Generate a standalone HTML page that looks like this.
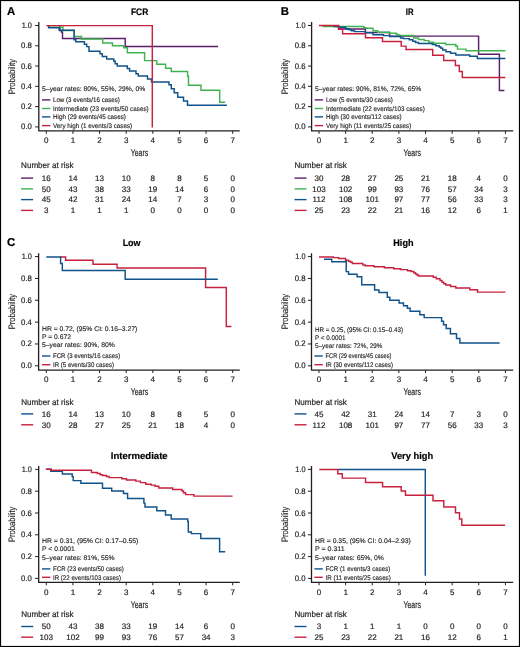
<!DOCTYPE html>
<html><head><meta charset="utf-8"><style>
html,body{margin:0;padding:0;background:#fff;width:520px;height:647px;overflow:hidden;}
body{position:relative;font-family:"Liberation Sans", sans-serif;}
</style></head><body>
<svg width="520" height="647" viewBox="0 0 520 647" style="position:absolute;left:0;top:0;will-change:transform">
<g font-family='"Liberation Sans", sans-serif' text-rendering="geometricPrecision">
<rect x="0.5" y="0.5" width="519" height="646" fill="none" stroke="#000" stroke-width="1.2"/>
<text x="7.00" y="14.80" font-size="11.4" text-anchor="start" font-weight="bold" fill="#000" stroke="#000" stroke-width="0.2">A</text>
<text x="139.60" y="14.60" font-size="9.4" text-anchor="middle" textLength="17.30" lengthAdjust="spacingAndGlyphs" font-weight="bold" fill="#000" stroke="#000" stroke-width="0.2">FCR</text>
<path d="M38.80 22.10V130.90H239.80" fill="none" stroke="#231f20" stroke-width="1.3"/>
<line x1="35.20" y1="126.90" x2="38.80" y2="126.90" stroke="#231f20" stroke-width="1.0"/>
<text x="31.90" y="129.40" font-size="8.0" text-anchor="end" textLength="10.80" lengthAdjust="spacingAndGlyphs" fill="#231f20" stroke="#231f20" stroke-width="0.2">0.0</text>
<line x1="35.20" y1="106.62" x2="38.80" y2="106.62" stroke="#231f20" stroke-width="1.0"/>
<text x="31.90" y="109.12" font-size="8.0" text-anchor="end" textLength="10.80" lengthAdjust="spacingAndGlyphs" fill="#231f20" stroke="#231f20" stroke-width="0.2">0.2</text>
<line x1="35.20" y1="86.34" x2="38.80" y2="86.34" stroke="#231f20" stroke-width="1.0"/>
<text x="31.90" y="88.84" font-size="8.0" text-anchor="end" textLength="10.80" lengthAdjust="spacingAndGlyphs" fill="#231f20" stroke="#231f20" stroke-width="0.2">0.4</text>
<line x1="35.20" y1="66.06" x2="38.80" y2="66.06" stroke="#231f20" stroke-width="1.0"/>
<text x="31.90" y="68.56" font-size="8.0" text-anchor="end" textLength="10.80" lengthAdjust="spacingAndGlyphs" fill="#231f20" stroke="#231f20" stroke-width="0.2">0.6</text>
<line x1="35.20" y1="45.78" x2="38.80" y2="45.78" stroke="#231f20" stroke-width="1.0"/>
<text x="31.90" y="48.28" font-size="8.0" text-anchor="end" textLength="10.80" lengthAdjust="spacingAndGlyphs" fill="#231f20" stroke="#231f20" stroke-width="0.2">0.8</text>
<line x1="35.20" y1="25.50" x2="38.80" y2="25.50" stroke="#231f20" stroke-width="1.0"/>
<text x="31.90" y="28.00" font-size="8.0" text-anchor="end" textLength="10.20" lengthAdjust="spacingAndGlyphs" fill="#231f20" stroke="#231f20" stroke-width="0.2">1.0</text>
<line x1="46.30" y1="130.90" x2="46.30" y2="133.80" stroke="#231f20" stroke-width="1.0"/>
<text x="46.30" y="143.10" font-size="8.0" text-anchor="middle" fill="#231f20" stroke="#231f20" stroke-width="0.2">0</text>
<line x1="72.93" y1="130.90" x2="72.93" y2="133.80" stroke="#231f20" stroke-width="1.0"/>
<text x="72.93" y="143.10" font-size="8.0" text-anchor="middle" fill="#231f20" stroke="#231f20" stroke-width="0.2">1</text>
<line x1="99.56" y1="130.90" x2="99.56" y2="133.80" stroke="#231f20" stroke-width="1.0"/>
<text x="99.56" y="143.10" font-size="8.0" text-anchor="middle" fill="#231f20" stroke="#231f20" stroke-width="0.2">2</text>
<line x1="126.19" y1="130.90" x2="126.19" y2="133.80" stroke="#231f20" stroke-width="1.0"/>
<text x="126.19" y="143.10" font-size="8.0" text-anchor="middle" fill="#231f20" stroke="#231f20" stroke-width="0.2">3</text>
<line x1="152.82" y1="130.90" x2="152.82" y2="133.80" stroke="#231f20" stroke-width="1.0"/>
<text x="152.82" y="143.10" font-size="8.0" text-anchor="middle" fill="#231f20" stroke="#231f20" stroke-width="0.2">4</text>
<line x1="179.45" y1="130.90" x2="179.45" y2="133.80" stroke="#231f20" stroke-width="1.0"/>
<text x="179.45" y="143.10" font-size="8.0" text-anchor="middle" fill="#231f20" stroke="#231f20" stroke-width="0.2">5</text>
<line x1="206.08" y1="130.90" x2="206.08" y2="133.80" stroke="#231f20" stroke-width="1.0"/>
<text x="206.08" y="143.10" font-size="8.0" text-anchor="middle" fill="#231f20" stroke="#231f20" stroke-width="0.2">6</text>
<line x1="232.71" y1="130.90" x2="232.71" y2="133.80" stroke="#231f20" stroke-width="1.0"/>
<text x="232.71" y="143.10" font-size="8.0" text-anchor="middle" fill="#231f20" stroke="#231f20" stroke-width="0.2">7</text>
<text x="0" y="0" font-size="9.4" text-anchor="middle" textLength="35.4" lengthAdjust="spacingAndGlyphs" fill="#231f20" stroke="#231f20" stroke-width="0.12" transform="translate(15.40,76.60) rotate(-90)">Probability</text>
<text x="139.50" y="155.70" font-size="9.8" text-anchor="middle" textLength="17.40" lengthAdjust="spacingAndGlyphs" fill="#231f20" stroke="#231f20" stroke-width="0.2">Years</text>
<path d="M60.00 25.60H60.00V30.50H61.30V32.00H62.50V38.40H125.20V46.40H218.10" fill="none" stroke="#5b1f6d" stroke-width="1.45" stroke-linejoin="miter" stroke-linecap="butt"/>
<path d="M48.60 25.60H48.60V27.30H63.00V30.40H74.30V36.50H81.50V39.00H102.70V42.90H112.50V45.80H123.70V47.70H127.40V52.80H144.60V60.60H156.80V64.30H165.60V68.20H171.30V71.50H187.60V76.20H188.50V85.20H201.00V90.20H219.70V102.30H225.20" fill="none" stroke="#3fb34f" stroke-width="1.45" stroke-linejoin="miter" stroke-linecap="butt"/>
<path d="M48.60 25.60H48.60V27.80H59.10V30.30H74.10V39.80H75.80V41.70H84.40V44.20H86.70V46.60H89.00V51.30H100.00V53.80H102.30V56.40H106.70V59.00H113.80V61.30H115.20V63.70H117.30V66.00H127.30V68.50H129.60V71.00H136.00V73.70H138.30V76.00H147.50V78.90H151.50V82.00H169.00V84.80H171.30V88.80H174.20V92.70H177.70V97.20H183.50V101.00H187.50V105.30H226.90" fill="none" stroke="#10528a" stroke-width="1.45" stroke-linejoin="miter" stroke-linecap="butt"/>
<path d="M46.30 25.60H152.30V127.60" fill="none" stroke="#c8203f" stroke-width="1.45" stroke-linejoin="miter" stroke-linecap="butt"/>
<text x="42.10" y="90.90" font-size="6.7" text-anchor="start" textLength="103.30" lengthAdjust="spacingAndGlyphs" fill="#231f20" stroke="#231f20" stroke-width="0.14">5–year rates: 80%, 55%, 29%, 0%</text>
<line x1="42.00" y1="99.90" x2="50.40" y2="99.90" stroke="#5b1f6d" stroke-width="1.4"/>
<text x="53.00" y="102.20" font-size="6.7" text-anchor="start" textLength="66.80" lengthAdjust="spacingAndGlyphs" fill="#231f20" stroke="#231f20" stroke-width="0.14">Low (3 events/16 cases)</text>
<line x1="42.00" y1="108.50" x2="50.40" y2="108.50" stroke="#3fb34f" stroke-width="1.4"/>
<text x="53.00" y="110.60" font-size="6.7" text-anchor="start" textLength="95.70" lengthAdjust="spacingAndGlyphs" fill="#231f20" stroke="#231f20" stroke-width="0.14">Intermediate (23 events/50 cases)</text>
<line x1="42.00" y1="116.90" x2="50.40" y2="116.90" stroke="#10528a" stroke-width="1.4"/>
<text x="53.00" y="119.10" font-size="6.7" text-anchor="start" textLength="72.90" lengthAdjust="spacingAndGlyphs" fill="#231f20" stroke="#231f20" stroke-width="0.14">High (29 events/45 cases)</text>
<line x1="42.00" y1="125.60" x2="50.40" y2="125.60" stroke="#c8203f" stroke-width="1.4"/>
<text x="53.00" y="127.60" font-size="6.7" text-anchor="start" textLength="79.20" lengthAdjust="spacingAndGlyphs" fill="#231f20" stroke="#231f20" stroke-width="0.14">Very high (1 events/3 cases)</text>
<text x="21.10" y="168.40" font-size="8.4" text-anchor="start" textLength="52.40" lengthAdjust="spacingAndGlyphs" fill="#231f20" stroke="#231f20" stroke-width="0.2">Number at risk</text>
<line x1="21.10" y1="178.10" x2="33.10" y2="178.10" stroke="#5b1f6d" stroke-width="1.4"/>
<text x="46.30" y="180.95" font-size="8.0" text-anchor="middle" fill="#231f20" stroke="#231f20" stroke-width="0.2">16</text>
<text x="72.93" y="180.95" font-size="8.0" text-anchor="middle" fill="#231f20" stroke="#231f20" stroke-width="0.2">14</text>
<text x="99.56" y="180.95" font-size="8.0" text-anchor="middle" fill="#231f20" stroke="#231f20" stroke-width="0.2">13</text>
<text x="126.19" y="180.95" font-size="8.0" text-anchor="middle" fill="#231f20" stroke="#231f20" stroke-width="0.2">10</text>
<text x="152.82" y="180.95" font-size="8.0" text-anchor="middle" fill="#231f20" stroke="#231f20" stroke-width="0.2">8</text>
<text x="179.45" y="180.95" font-size="8.0" text-anchor="middle" fill="#231f20" stroke="#231f20" stroke-width="0.2">8</text>
<text x="206.08" y="180.95" font-size="8.0" text-anchor="middle" fill="#231f20" stroke="#231f20" stroke-width="0.2">5</text>
<text x="232.71" y="180.95" font-size="8.0" text-anchor="middle" fill="#231f20" stroke="#231f20" stroke-width="0.2">0</text>
<line x1="21.10" y1="188.90" x2="33.10" y2="188.90" stroke="#3fb34f" stroke-width="1.4"/>
<text x="46.30" y="191.75" font-size="8.0" text-anchor="middle" fill="#231f20" stroke="#231f20" stroke-width="0.2">50</text>
<text x="72.93" y="191.75" font-size="8.0" text-anchor="middle" fill="#231f20" stroke="#231f20" stroke-width="0.2">43</text>
<text x="99.56" y="191.75" font-size="8.0" text-anchor="middle" fill="#231f20" stroke="#231f20" stroke-width="0.2">38</text>
<text x="126.19" y="191.75" font-size="8.0" text-anchor="middle" fill="#231f20" stroke="#231f20" stroke-width="0.2">33</text>
<text x="152.82" y="191.75" font-size="8.0" text-anchor="middle" fill="#231f20" stroke="#231f20" stroke-width="0.2">19</text>
<text x="179.45" y="191.75" font-size="8.0" text-anchor="middle" fill="#231f20" stroke="#231f20" stroke-width="0.2">14</text>
<text x="206.08" y="191.75" font-size="8.0" text-anchor="middle" fill="#231f20" stroke="#231f20" stroke-width="0.2">6</text>
<text x="232.71" y="191.75" font-size="8.0" text-anchor="middle" fill="#231f20" stroke="#231f20" stroke-width="0.2">0</text>
<line x1="21.10" y1="199.60" x2="33.10" y2="199.60" stroke="#10528a" stroke-width="1.4"/>
<text x="46.30" y="202.45" font-size="8.0" text-anchor="middle" fill="#231f20" stroke="#231f20" stroke-width="0.2">45</text>
<text x="72.93" y="202.45" font-size="8.0" text-anchor="middle" fill="#231f20" stroke="#231f20" stroke-width="0.2">42</text>
<text x="99.56" y="202.45" font-size="8.0" text-anchor="middle" fill="#231f20" stroke="#231f20" stroke-width="0.2">31</text>
<text x="126.19" y="202.45" font-size="8.0" text-anchor="middle" fill="#231f20" stroke="#231f20" stroke-width="0.2">24</text>
<text x="152.82" y="202.45" font-size="8.0" text-anchor="middle" fill="#231f20" stroke="#231f20" stroke-width="0.2">14</text>
<text x="179.45" y="202.45" font-size="8.0" text-anchor="middle" fill="#231f20" stroke="#231f20" stroke-width="0.2">7</text>
<text x="206.08" y="202.45" font-size="8.0" text-anchor="middle" fill="#231f20" stroke="#231f20" stroke-width="0.2">3</text>
<text x="232.71" y="202.45" font-size="8.0" text-anchor="middle" fill="#231f20" stroke="#231f20" stroke-width="0.2">0</text>
<line x1="21.10" y1="210.40" x2="33.10" y2="210.40" stroke="#c8203f" stroke-width="1.4"/>
<text x="46.30" y="213.25" font-size="8.0" text-anchor="middle" fill="#231f20" stroke="#231f20" stroke-width="0.2">3</text>
<text x="72.93" y="213.25" font-size="8.0" text-anchor="middle" fill="#231f20" stroke="#231f20" stroke-width="0.2">1</text>
<text x="99.56" y="213.25" font-size="8.0" text-anchor="middle" fill="#231f20" stroke="#231f20" stroke-width="0.2">1</text>
<text x="126.19" y="213.25" font-size="8.0" text-anchor="middle" fill="#231f20" stroke="#231f20" stroke-width="0.2">1</text>
<text x="152.82" y="213.25" font-size="8.0" text-anchor="middle" fill="#231f20" stroke="#231f20" stroke-width="0.2">0</text>
<text x="179.45" y="213.25" font-size="8.0" text-anchor="middle" fill="#231f20" stroke="#231f20" stroke-width="0.2">0</text>
<text x="206.08" y="213.25" font-size="8.0" text-anchor="middle" fill="#231f20" stroke="#231f20" stroke-width="0.2">0</text>
<text x="232.71" y="213.25" font-size="8.0" text-anchor="middle" fill="#231f20" stroke="#231f20" stroke-width="0.2">0</text>
<text x="280.80" y="14.90" font-size="11.4" text-anchor="start" font-weight="bold" fill="#000" stroke="#000" stroke-width="0.2">B</text>
<text x="409.70" y="14.60" font-size="9.4" text-anchor="middle" textLength="7.70" lengthAdjust="spacingAndGlyphs" font-weight="bold" fill="#000" stroke="#000" stroke-width="0.2">IR</text>
<path d="M311.60 22.10V130.90H513.20" fill="none" stroke="#231f20" stroke-width="1.3"/>
<line x1="308.00" y1="126.90" x2="311.60" y2="126.90" stroke="#231f20" stroke-width="1.0"/>
<text x="305.60" y="129.40" font-size="8.0" text-anchor="end" textLength="10.80" lengthAdjust="spacingAndGlyphs" fill="#231f20" stroke="#231f20" stroke-width="0.2">0.0</text>
<line x1="308.00" y1="106.62" x2="311.60" y2="106.62" stroke="#231f20" stroke-width="1.0"/>
<text x="305.60" y="109.12" font-size="8.0" text-anchor="end" textLength="10.80" lengthAdjust="spacingAndGlyphs" fill="#231f20" stroke="#231f20" stroke-width="0.2">0.2</text>
<line x1="308.00" y1="86.34" x2="311.60" y2="86.34" stroke="#231f20" stroke-width="1.0"/>
<text x="305.60" y="88.84" font-size="8.0" text-anchor="end" textLength="10.80" lengthAdjust="spacingAndGlyphs" fill="#231f20" stroke="#231f20" stroke-width="0.2">0.4</text>
<line x1="308.00" y1="66.06" x2="311.60" y2="66.06" stroke="#231f20" stroke-width="1.0"/>
<text x="305.60" y="68.56" font-size="8.0" text-anchor="end" textLength="10.80" lengthAdjust="spacingAndGlyphs" fill="#231f20" stroke="#231f20" stroke-width="0.2">0.6</text>
<line x1="308.00" y1="45.78" x2="311.60" y2="45.78" stroke="#231f20" stroke-width="1.0"/>
<text x="305.60" y="48.28" font-size="8.0" text-anchor="end" textLength="10.80" lengthAdjust="spacingAndGlyphs" fill="#231f20" stroke="#231f20" stroke-width="0.2">0.8</text>
<line x1="308.00" y1="25.50" x2="311.60" y2="25.50" stroke="#231f20" stroke-width="1.0"/>
<text x="305.60" y="28.00" font-size="8.0" text-anchor="end" textLength="10.20" lengthAdjust="spacingAndGlyphs" fill="#231f20" stroke="#231f20" stroke-width="0.2">1.0</text>
<line x1="319.00" y1="130.90" x2="319.00" y2="133.80" stroke="#231f20" stroke-width="1.0"/>
<text x="319.00" y="143.10" font-size="8.0" text-anchor="middle" fill="#231f20" stroke="#231f20" stroke-width="0.2">0</text>
<line x1="345.63" y1="130.90" x2="345.63" y2="133.80" stroke="#231f20" stroke-width="1.0"/>
<text x="345.63" y="143.10" font-size="8.0" text-anchor="middle" fill="#231f20" stroke="#231f20" stroke-width="0.2">1</text>
<line x1="372.26" y1="130.90" x2="372.26" y2="133.80" stroke="#231f20" stroke-width="1.0"/>
<text x="372.26" y="143.10" font-size="8.0" text-anchor="middle" fill="#231f20" stroke="#231f20" stroke-width="0.2">2</text>
<line x1="398.89" y1="130.90" x2="398.89" y2="133.80" stroke="#231f20" stroke-width="1.0"/>
<text x="398.89" y="143.10" font-size="8.0" text-anchor="middle" fill="#231f20" stroke="#231f20" stroke-width="0.2">3</text>
<line x1="425.52" y1="130.90" x2="425.52" y2="133.80" stroke="#231f20" stroke-width="1.0"/>
<text x="425.52" y="143.10" font-size="8.0" text-anchor="middle" fill="#231f20" stroke="#231f20" stroke-width="0.2">4</text>
<line x1="452.15" y1="130.90" x2="452.15" y2="133.80" stroke="#231f20" stroke-width="1.0"/>
<text x="452.15" y="143.10" font-size="8.0" text-anchor="middle" fill="#231f20" stroke="#231f20" stroke-width="0.2">5</text>
<line x1="478.78" y1="130.90" x2="478.78" y2="133.80" stroke="#231f20" stroke-width="1.0"/>
<text x="478.78" y="143.10" font-size="8.0" text-anchor="middle" fill="#231f20" stroke="#231f20" stroke-width="0.2">6</text>
<line x1="505.41" y1="130.90" x2="505.41" y2="133.80" stroke="#231f20" stroke-width="1.0"/>
<text x="505.41" y="143.10" font-size="8.0" text-anchor="middle" fill="#231f20" stroke="#231f20" stroke-width="0.2">7</text>
<text x="0" y="0" font-size="9.4" text-anchor="middle" textLength="35.4" lengthAdjust="spacingAndGlyphs" fill="#231f20" stroke="#231f20" stroke-width="0.12" transform="translate(288.20,76.60) rotate(-90)">Probability</text>
<text x="412.20" y="155.60" font-size="9.8" text-anchor="middle" textLength="17.40" lengthAdjust="spacingAndGlyphs" fill="#231f20" stroke="#231f20" stroke-width="0.2">Years</text>
<path d="M338.60 25.50H338.60V29.00H365.40V32.50H389.60V36.10H478.60V54.30H499.40V90.40H504.40" fill="none" stroke="#5b1f6d" stroke-width="1.45" stroke-linejoin="miter" stroke-linecap="butt"/>
<path d="M323.20 25.50H323.20V26.50H363.80V27.60H366.20V28.30H373.00V30.70H377.70V32.20H389.20V33.20H396.50V34.50H398.80V35.40H413.80V37.90H418.50V39.40H424.20V40.60H428.80V42.10H433.50V43.20H445.60V44.40H455.80V46.30H457.50V49.10H466.00V50.70H505.40" fill="none" stroke="#3fb34f" stroke-width="1.45" stroke-linejoin="miter" stroke-linecap="butt"/>
<path d="M333.90 25.50H333.90V26.40H338.50V27.30H345.40V28.20H346.50V28.90H349.00V29.80H351.50V30.70H354.60V31.60H365.40V32.80H373.00V34.70H383.50V35.60H389.60V36.50H400.60V37.90H403.50V38.60H409.20V39.80H412.70V41.30H415.60V42.50H418.50V43.50H432.30V44.60H435.80V45.80H439.20V47.00H441.00V48.20H442.70V50.00H446.00V51.80H450.60V53.30H455.80V55.00H469.70V56.20H477.30V58.50H505.40" fill="none" stroke="#10528a" stroke-width="1.45" stroke-linejoin="miter" stroke-linecap="butt"/>
<path d="M319.00 25.50H338.60V29.20H342.60V33.80H365.50V37.80H382.50V41.50H401.20V46.10H406.00V49.50H432.70V55.20H443.70V60.50H455.40V65.50H459.30V71.50H462.30V77.50H505.40" fill="none" stroke="#c8203f" stroke-width="1.45" stroke-linejoin="miter" stroke-linecap="butt"/>
<text x="314.90" y="90.90" font-size="6.7" text-anchor="start" textLength="106.40" lengthAdjust="spacingAndGlyphs" fill="#231f20" stroke="#231f20" stroke-width="0.14">5–year rates: 90%, 81%, 72%, 65%</text>
<line x1="314.70" y1="99.90" x2="323.10" y2="99.90" stroke="#5b1f6d" stroke-width="1.4"/>
<text x="325.90" y="102.20" font-size="6.7" text-anchor="start" textLength="66.90" lengthAdjust="spacingAndGlyphs" fill="#231f20" stroke="#231f20" stroke-width="0.14">Low (5 events/30 cases)</text>
<line x1="314.70" y1="108.50" x2="323.10" y2="108.50" stroke="#3fb34f" stroke-width="1.4"/>
<text x="325.90" y="110.60" font-size="6.7" text-anchor="start" textLength="98.90" lengthAdjust="spacingAndGlyphs" fill="#231f20" stroke="#231f20" stroke-width="0.14">Intermediate (22 events/103 cases)</text>
<line x1="314.70" y1="116.90" x2="323.10" y2="116.90" stroke="#10528a" stroke-width="1.4"/>
<text x="325.90" y="119.10" font-size="6.7" text-anchor="start" textLength="75.80" lengthAdjust="spacingAndGlyphs" fill="#231f20" stroke="#231f20" stroke-width="0.14">High (30 events/112 cases)</text>
<line x1="314.70" y1="125.60" x2="323.10" y2="125.60" stroke="#c8203f" stroke-width="1.4"/>
<text x="325.90" y="127.60" font-size="6.7" text-anchor="start" textLength="85.40" lengthAdjust="spacingAndGlyphs" fill="#231f20" stroke="#231f20" stroke-width="0.14">Very high (11 events/25 cases)</text>
<text x="294.50" y="168.40" font-size="8.4" text-anchor="start" textLength="52.40" lengthAdjust="spacingAndGlyphs" fill="#231f20" stroke="#231f20" stroke-width="0.2">Number at risk</text>
<line x1="294.50" y1="178.10" x2="306.50" y2="178.10" stroke="#5b1f6d" stroke-width="1.4"/>
<text x="319.00" y="180.95" font-size="8.0" text-anchor="middle" fill="#231f20" stroke="#231f20" stroke-width="0.2">30</text>
<text x="345.63" y="180.95" font-size="8.0" text-anchor="middle" fill="#231f20" stroke="#231f20" stroke-width="0.2">28</text>
<text x="372.26" y="180.95" font-size="8.0" text-anchor="middle" fill="#231f20" stroke="#231f20" stroke-width="0.2">27</text>
<text x="398.89" y="180.95" font-size="8.0" text-anchor="middle" fill="#231f20" stroke="#231f20" stroke-width="0.2">25</text>
<text x="425.52" y="180.95" font-size="8.0" text-anchor="middle" fill="#231f20" stroke="#231f20" stroke-width="0.2">21</text>
<text x="452.15" y="180.95" font-size="8.0" text-anchor="middle" fill="#231f20" stroke="#231f20" stroke-width="0.2">18</text>
<text x="478.78" y="180.95" font-size="8.0" text-anchor="middle" fill="#231f20" stroke="#231f20" stroke-width="0.2">4</text>
<text x="505.41" y="180.95" font-size="8.0" text-anchor="middle" fill="#231f20" stroke="#231f20" stroke-width="0.2">0</text>
<line x1="294.50" y1="188.90" x2="306.50" y2="188.90" stroke="#3fb34f" stroke-width="1.4"/>
<text x="319.00" y="191.75" font-size="8.0" text-anchor="middle" fill="#231f20" stroke="#231f20" stroke-width="0.2">103</text>
<text x="345.63" y="191.75" font-size="8.0" text-anchor="middle" fill="#231f20" stroke="#231f20" stroke-width="0.2">102</text>
<text x="372.26" y="191.75" font-size="8.0" text-anchor="middle" fill="#231f20" stroke="#231f20" stroke-width="0.2">99</text>
<text x="398.89" y="191.75" font-size="8.0" text-anchor="middle" fill="#231f20" stroke="#231f20" stroke-width="0.2">93</text>
<text x="425.52" y="191.75" font-size="8.0" text-anchor="middle" fill="#231f20" stroke="#231f20" stroke-width="0.2">76</text>
<text x="452.15" y="191.75" font-size="8.0" text-anchor="middle" fill="#231f20" stroke="#231f20" stroke-width="0.2">57</text>
<text x="478.78" y="191.75" font-size="8.0" text-anchor="middle" fill="#231f20" stroke="#231f20" stroke-width="0.2">34</text>
<text x="505.41" y="191.75" font-size="8.0" text-anchor="middle" fill="#231f20" stroke="#231f20" stroke-width="0.2">3</text>
<line x1="294.50" y1="199.60" x2="306.50" y2="199.60" stroke="#10528a" stroke-width="1.4"/>
<text x="319.00" y="202.45" font-size="8.0" text-anchor="middle" fill="#231f20" stroke="#231f20" stroke-width="0.2">112</text>
<text x="345.63" y="202.45" font-size="8.0" text-anchor="middle" fill="#231f20" stroke="#231f20" stroke-width="0.2">108</text>
<text x="372.26" y="202.45" font-size="8.0" text-anchor="middle" fill="#231f20" stroke="#231f20" stroke-width="0.2">101</text>
<text x="398.89" y="202.45" font-size="8.0" text-anchor="middle" fill="#231f20" stroke="#231f20" stroke-width="0.2">97</text>
<text x="425.52" y="202.45" font-size="8.0" text-anchor="middle" fill="#231f20" stroke="#231f20" stroke-width="0.2">77</text>
<text x="452.15" y="202.45" font-size="8.0" text-anchor="middle" fill="#231f20" stroke="#231f20" stroke-width="0.2">56</text>
<text x="478.78" y="202.45" font-size="8.0" text-anchor="middle" fill="#231f20" stroke="#231f20" stroke-width="0.2">33</text>
<text x="505.41" y="202.45" font-size="8.0" text-anchor="middle" fill="#231f20" stroke="#231f20" stroke-width="0.2">3</text>
<line x1="294.50" y1="210.40" x2="306.50" y2="210.40" stroke="#c8203f" stroke-width="1.4"/>
<text x="319.00" y="213.25" font-size="8.0" text-anchor="middle" fill="#231f20" stroke="#231f20" stroke-width="0.2">25</text>
<text x="345.63" y="213.25" font-size="8.0" text-anchor="middle" fill="#231f20" stroke="#231f20" stroke-width="0.2">23</text>
<text x="372.26" y="213.25" font-size="8.0" text-anchor="middle" fill="#231f20" stroke="#231f20" stroke-width="0.2">22</text>
<text x="398.89" y="213.25" font-size="8.0" text-anchor="middle" fill="#231f20" stroke="#231f20" stroke-width="0.2">21</text>
<text x="425.52" y="213.25" font-size="8.0" text-anchor="middle" fill="#231f20" stroke="#231f20" stroke-width="0.2">16</text>
<text x="452.15" y="213.25" font-size="8.0" text-anchor="middle" fill="#231f20" stroke="#231f20" stroke-width="0.2">12</text>
<text x="478.78" y="213.25" font-size="8.0" text-anchor="middle" fill="#231f20" stroke="#231f20" stroke-width="0.2">6</text>
<text x="505.41" y="213.25" font-size="8.0" text-anchor="middle" fill="#231f20" stroke="#231f20" stroke-width="0.2">1</text>
<text x="6.90" y="246.20" font-size="11.4" text-anchor="start" font-weight="bold" fill="#000" stroke="#000" stroke-width="0.2">C</text>
<text x="131.60" y="245.80" font-size="9.5" text-anchor="middle" textLength="17.90" lengthAdjust="spacingAndGlyphs" font-weight="bold" fill="#000" stroke="#000" stroke-width="0.2">Low</text>
<path d="M38.60 253.20V370.10H239.80" fill="none" stroke="#231f20" stroke-width="1.3"/>
<line x1="35.00" y1="365.80" x2="38.60" y2="365.80" stroke="#231f20" stroke-width="1.0"/>
<text x="31.90" y="368.30" font-size="8.0" text-anchor="end" textLength="10.80" lengthAdjust="spacingAndGlyphs" fill="#231f20" stroke="#231f20" stroke-width="0.2">0.0</text>
<line x1="35.00" y1="343.96" x2="38.60" y2="343.96" stroke="#231f20" stroke-width="1.0"/>
<text x="31.90" y="346.46" font-size="8.0" text-anchor="end" textLength="10.80" lengthAdjust="spacingAndGlyphs" fill="#231f20" stroke="#231f20" stroke-width="0.2">0.2</text>
<line x1="35.00" y1="322.12" x2="38.60" y2="322.12" stroke="#231f20" stroke-width="1.0"/>
<text x="31.90" y="324.62" font-size="8.0" text-anchor="end" textLength="10.80" lengthAdjust="spacingAndGlyphs" fill="#231f20" stroke="#231f20" stroke-width="0.2">0.4</text>
<line x1="35.00" y1="300.28" x2="38.60" y2="300.28" stroke="#231f20" stroke-width="1.0"/>
<text x="31.90" y="302.78" font-size="8.0" text-anchor="end" textLength="10.80" lengthAdjust="spacingAndGlyphs" fill="#231f20" stroke="#231f20" stroke-width="0.2">0.6</text>
<line x1="35.00" y1="278.44" x2="38.60" y2="278.44" stroke="#231f20" stroke-width="1.0"/>
<text x="31.90" y="280.94" font-size="8.0" text-anchor="end" textLength="10.80" lengthAdjust="spacingAndGlyphs" fill="#231f20" stroke="#231f20" stroke-width="0.2">0.8</text>
<line x1="35.00" y1="256.60" x2="38.60" y2="256.60" stroke="#231f20" stroke-width="1.0"/>
<text x="31.90" y="259.10" font-size="8.0" text-anchor="end" textLength="10.20" lengthAdjust="spacingAndGlyphs" fill="#231f20" stroke="#231f20" stroke-width="0.2">1.0</text>
<line x1="46.30" y1="370.10" x2="46.30" y2="373.00" stroke="#231f20" stroke-width="1.0"/>
<text x="46.30" y="382.30" font-size="8.0" text-anchor="middle" fill="#231f20" stroke="#231f20" stroke-width="0.2">0</text>
<line x1="72.93" y1="370.10" x2="72.93" y2="373.00" stroke="#231f20" stroke-width="1.0"/>
<text x="72.93" y="382.30" font-size="8.0" text-anchor="middle" fill="#231f20" stroke="#231f20" stroke-width="0.2">1</text>
<line x1="99.56" y1="370.10" x2="99.56" y2="373.00" stroke="#231f20" stroke-width="1.0"/>
<text x="99.56" y="382.30" font-size="8.0" text-anchor="middle" fill="#231f20" stroke="#231f20" stroke-width="0.2">2</text>
<line x1="126.19" y1="370.10" x2="126.19" y2="373.00" stroke="#231f20" stroke-width="1.0"/>
<text x="126.19" y="382.30" font-size="8.0" text-anchor="middle" fill="#231f20" stroke="#231f20" stroke-width="0.2">3</text>
<line x1="152.82" y1="370.10" x2="152.82" y2="373.00" stroke="#231f20" stroke-width="1.0"/>
<text x="152.82" y="382.30" font-size="8.0" text-anchor="middle" fill="#231f20" stroke="#231f20" stroke-width="0.2">4</text>
<line x1="179.45" y1="370.10" x2="179.45" y2="373.00" stroke="#231f20" stroke-width="1.0"/>
<text x="179.45" y="382.30" font-size="8.0" text-anchor="middle" fill="#231f20" stroke="#231f20" stroke-width="0.2">5</text>
<line x1="206.08" y1="370.10" x2="206.08" y2="373.00" stroke="#231f20" stroke-width="1.0"/>
<text x="206.08" y="382.30" font-size="8.0" text-anchor="middle" fill="#231f20" stroke="#231f20" stroke-width="0.2">6</text>
<line x1="232.71" y1="370.10" x2="232.71" y2="373.00" stroke="#231f20" stroke-width="1.0"/>
<text x="232.71" y="382.30" font-size="8.0" text-anchor="middle" fill="#231f20" stroke="#231f20" stroke-width="0.2">7</text>
<text x="0" y="0" font-size="9.4" text-anchor="middle" textLength="35.4" lengthAdjust="spacingAndGlyphs" fill="#231f20" stroke="#231f20" stroke-width="0.12" transform="translate(15.20,311.60) rotate(-90)">Probability</text>
<text x="139.50" y="395.40" font-size="9.8" text-anchor="middle" textLength="17.40" lengthAdjust="spacingAndGlyphs" fill="#231f20" stroke="#231f20" stroke-width="0.2">Years</text>
<path d="M60.00 256.90H65.60V260.30H93.00V264.20H117.10V267.90H205.60V287.40H226.30V326.50H231.40" fill="none" stroke="#c8203f" stroke-width="1.45" stroke-linejoin="miter" stroke-linecap="butt"/>
<path d="M46.30 256.90H60.60V263.50H62.30V270.50H125.20V279.20H217.80" fill="none" stroke="#10528a" stroke-width="1.45" stroke-linejoin="miter" stroke-linecap="butt"/>
<text x="42.00" y="330.90" font-size="6.7" text-anchor="start" textLength="95.30" lengthAdjust="spacingAndGlyphs" fill="#231f20" stroke="#231f20" stroke-width="0.14">HR = 0.72, (95% CI: 0.16–3.27)</text>
<text x="42.00" y="338.70" font-size="6.7" text-anchor="start" textLength="28.90" lengthAdjust="spacingAndGlyphs" fill="#231f20" stroke="#231f20" stroke-width="0.14">P = 0.672</text>
<text x="42.00" y="346.80" font-size="6.7" text-anchor="start" textLength="72.80" lengthAdjust="spacingAndGlyphs" fill="#231f20" stroke="#231f20" stroke-width="0.14">5–year rates: 90%, 80%</text>
<line x1="42.00" y1="356.00" x2="50.40" y2="356.00" stroke="#10528a" stroke-width="1.4"/>
<text x="53.00" y="358.30" font-size="6.7" text-anchor="start" textLength="67.20" lengthAdjust="spacingAndGlyphs" fill="#231f20" stroke="#231f20" stroke-width="0.14">FCR (3 events/16 cases)</text>
<line x1="42.00" y1="364.70" x2="50.40" y2="364.70" stroke="#c8203f" stroke-width="1.4"/>
<text x="53.00" y="367.00" font-size="6.7" text-anchor="start" textLength="61.00" lengthAdjust="spacingAndGlyphs" fill="#231f20" stroke="#231f20" stroke-width="0.14">IR (5 events/30 cases)</text>
<text x="21.20" y="404.70" font-size="8.4" text-anchor="start" textLength="52.40" lengthAdjust="spacingAndGlyphs" fill="#231f20" stroke="#231f20" stroke-width="0.2">Number at risk</text>
<line x1="21.20" y1="413.90" x2="33.20" y2="413.90" stroke="#10528a" stroke-width="1.4"/>
<text x="46.30" y="416.75" font-size="8.0" text-anchor="middle" fill="#231f20" stroke="#231f20" stroke-width="0.2">16</text>
<text x="72.93" y="416.75" font-size="8.0" text-anchor="middle" fill="#231f20" stroke="#231f20" stroke-width="0.2">14</text>
<text x="99.56" y="416.75" font-size="8.0" text-anchor="middle" fill="#231f20" stroke="#231f20" stroke-width="0.2">13</text>
<text x="126.19" y="416.75" font-size="8.0" text-anchor="middle" fill="#231f20" stroke="#231f20" stroke-width="0.2">10</text>
<text x="152.82" y="416.75" font-size="8.0" text-anchor="middle" fill="#231f20" stroke="#231f20" stroke-width="0.2">8</text>
<text x="179.45" y="416.75" font-size="8.0" text-anchor="middle" fill="#231f20" stroke="#231f20" stroke-width="0.2">8</text>
<text x="206.08" y="416.75" font-size="8.0" text-anchor="middle" fill="#231f20" stroke="#231f20" stroke-width="0.2">5</text>
<text x="232.71" y="416.75" font-size="8.0" text-anchor="middle" fill="#231f20" stroke="#231f20" stroke-width="0.2">0</text>
<line x1="21.20" y1="424.80" x2="33.20" y2="424.80" stroke="#c8203f" stroke-width="1.4"/>
<text x="46.30" y="427.65" font-size="8.0" text-anchor="middle" fill="#231f20" stroke="#231f20" stroke-width="0.2">30</text>
<text x="72.93" y="427.65" font-size="8.0" text-anchor="middle" fill="#231f20" stroke="#231f20" stroke-width="0.2">28</text>
<text x="99.56" y="427.65" font-size="8.0" text-anchor="middle" fill="#231f20" stroke="#231f20" stroke-width="0.2">27</text>
<text x="126.19" y="427.65" font-size="8.0" text-anchor="middle" fill="#231f20" stroke="#231f20" stroke-width="0.2">25</text>
<text x="152.82" y="427.65" font-size="8.0" text-anchor="middle" fill="#231f20" stroke="#231f20" stroke-width="0.2">21</text>
<text x="179.45" y="427.65" font-size="8.0" text-anchor="middle" fill="#231f20" stroke="#231f20" stroke-width="0.2">18</text>
<text x="206.08" y="427.65" font-size="8.0" text-anchor="middle" fill="#231f20" stroke="#231f20" stroke-width="0.2">4</text>
<text x="232.71" y="427.65" font-size="8.0" text-anchor="middle" fill="#231f20" stroke="#231f20" stroke-width="0.2">0</text>
<text x="403.40" y="245.80" font-size="9.5" text-anchor="middle" textLength="20.20" lengthAdjust="spacingAndGlyphs" font-weight="bold" fill="#000" stroke="#000" stroke-width="0.2">High</text>
<path d="M311.50 253.20V370.10H513.20" fill="none" stroke="#231f20" stroke-width="1.3"/>
<line x1="307.90" y1="365.80" x2="311.50" y2="365.80" stroke="#231f20" stroke-width="1.0"/>
<text x="305.50" y="368.30" font-size="8.0" text-anchor="end" textLength="10.80" lengthAdjust="spacingAndGlyphs" fill="#231f20" stroke="#231f20" stroke-width="0.2">0.0</text>
<line x1="307.90" y1="343.96" x2="311.50" y2="343.96" stroke="#231f20" stroke-width="1.0"/>
<text x="305.50" y="346.46" font-size="8.0" text-anchor="end" textLength="10.80" lengthAdjust="spacingAndGlyphs" fill="#231f20" stroke="#231f20" stroke-width="0.2">0.2</text>
<line x1="307.90" y1="322.12" x2="311.50" y2="322.12" stroke="#231f20" stroke-width="1.0"/>
<text x="305.50" y="324.62" font-size="8.0" text-anchor="end" textLength="10.80" lengthAdjust="spacingAndGlyphs" fill="#231f20" stroke="#231f20" stroke-width="0.2">0.4</text>
<line x1="307.90" y1="300.28" x2="311.50" y2="300.28" stroke="#231f20" stroke-width="1.0"/>
<text x="305.50" y="302.78" font-size="8.0" text-anchor="end" textLength="10.80" lengthAdjust="spacingAndGlyphs" fill="#231f20" stroke="#231f20" stroke-width="0.2">0.6</text>
<line x1="307.90" y1="278.44" x2="311.50" y2="278.44" stroke="#231f20" stroke-width="1.0"/>
<text x="305.50" y="280.94" font-size="8.0" text-anchor="end" textLength="10.80" lengthAdjust="spacingAndGlyphs" fill="#231f20" stroke="#231f20" stroke-width="0.2">0.8</text>
<line x1="307.90" y1="256.60" x2="311.50" y2="256.60" stroke="#231f20" stroke-width="1.0"/>
<text x="305.50" y="259.10" font-size="8.0" text-anchor="end" textLength="10.20" lengthAdjust="spacingAndGlyphs" fill="#231f20" stroke="#231f20" stroke-width="0.2">1.0</text>
<line x1="319.00" y1="370.10" x2="319.00" y2="373.00" stroke="#231f20" stroke-width="1.0"/>
<text x="319.00" y="382.30" font-size="8.0" text-anchor="middle" fill="#231f20" stroke="#231f20" stroke-width="0.2">0</text>
<line x1="345.63" y1="370.10" x2="345.63" y2="373.00" stroke="#231f20" stroke-width="1.0"/>
<text x="345.63" y="382.30" font-size="8.0" text-anchor="middle" fill="#231f20" stroke="#231f20" stroke-width="0.2">1</text>
<line x1="372.26" y1="370.10" x2="372.26" y2="373.00" stroke="#231f20" stroke-width="1.0"/>
<text x="372.26" y="382.30" font-size="8.0" text-anchor="middle" fill="#231f20" stroke="#231f20" stroke-width="0.2">2</text>
<line x1="398.89" y1="370.10" x2="398.89" y2="373.00" stroke="#231f20" stroke-width="1.0"/>
<text x="398.89" y="382.30" font-size="8.0" text-anchor="middle" fill="#231f20" stroke="#231f20" stroke-width="0.2">3</text>
<line x1="425.52" y1="370.10" x2="425.52" y2="373.00" stroke="#231f20" stroke-width="1.0"/>
<text x="425.52" y="382.30" font-size="8.0" text-anchor="middle" fill="#231f20" stroke="#231f20" stroke-width="0.2">4</text>
<line x1="452.15" y1="370.10" x2="452.15" y2="373.00" stroke="#231f20" stroke-width="1.0"/>
<text x="452.15" y="382.30" font-size="8.0" text-anchor="middle" fill="#231f20" stroke="#231f20" stroke-width="0.2">5</text>
<line x1="478.78" y1="370.10" x2="478.78" y2="373.00" stroke="#231f20" stroke-width="1.0"/>
<text x="478.78" y="382.30" font-size="8.0" text-anchor="middle" fill="#231f20" stroke="#231f20" stroke-width="0.2">6</text>
<line x1="505.41" y1="370.10" x2="505.41" y2="373.00" stroke="#231f20" stroke-width="1.0"/>
<text x="505.41" y="382.30" font-size="8.0" text-anchor="middle" fill="#231f20" stroke="#231f20" stroke-width="0.2">7</text>
<text x="0" y="0" font-size="9.4" text-anchor="middle" textLength="35.4" lengthAdjust="spacingAndGlyphs" fill="#231f20" stroke="#231f20" stroke-width="0.12" transform="translate(288.10,311.60) rotate(-90)">Probability</text>
<text x="412.20" y="395.40" font-size="9.8" text-anchor="middle" textLength="17.40" lengthAdjust="spacingAndGlyphs" fill="#231f20" stroke="#231f20" stroke-width="0.2">Years</text>
<path d="M324.00 259.30H331.70V261.80H346.20V271.60H348.50V274.20H357.10V276.80H361.70V284.70H374.60V290.00H379.00V292.50H387.30V297.20H389.80V300.20H399.10V302.90H403.50V305.70H407.40V308.30H410.10V311.20H419.90V314.70H424.20V317.60H441.60V321.20H443.50V324.70H446.20V328.50H450.40V333.80H456.50V338.50H459.90V342.90H499.60" fill="none" stroke="#10528a" stroke-width="1.45" stroke-linejoin="miter" stroke-linecap="butt"/>
<path d="M319.00 256.90H333.50V257.60H338.70V258.40H345.60V260.30H348.50V261.30H350.50V262.30H352.30V263.50H362.90V265.00H365.20V265.80H374.00V266.70H384.40V267.70H393.70V268.70H400.60V269.60H407.50V270.70H411.00V271.50H413.80V272.70H415.50V273.90H417.00V274.90H418.60V275.90H433.30V277.30H436.20V278.70H440.00V280.50H442.00V282.30H443.80V283.80H445.80V285.00H450.60V286.50H455.80V287.90H469.80V289.80H477.50V292.10H505.40" fill="none" stroke="#c8203f" stroke-width="1.45" stroke-linejoin="miter" stroke-linecap="butt"/>
<text x="315.00" y="332.20" font-size="6.7" text-anchor="start" textLength="88.10" lengthAdjust="spacingAndGlyphs" fill="#231f20" stroke="#231f20" stroke-width="0.14">HR = 0.25, (95% CI: 0.15–0.43)</text>
<text x="315.00" y="339.90" font-size="6.7" text-anchor="start" textLength="30.50" lengthAdjust="spacingAndGlyphs" fill="#231f20" stroke="#231f20" stroke-width="0.14">P &lt; 0.0001</text>
<text x="315.00" y="347.60" font-size="6.7" text-anchor="start" textLength="67.40" lengthAdjust="spacingAndGlyphs" fill="#231f20" stroke="#231f20" stroke-width="0.14">5–year rates: 72%, 29%</text>
<line x1="314.40" y1="356.00" x2="322.80" y2="356.00" stroke="#10528a" stroke-width="1.4"/>
<text x="325.60" y="358.30" font-size="6.7" text-anchor="start" textLength="65.80" lengthAdjust="spacingAndGlyphs" fill="#231f20" stroke="#231f20" stroke-width="0.14">FCR (29 events/45 cases)</text>
<line x1="314.40" y1="364.70" x2="322.80" y2="364.70" stroke="#c8203f" stroke-width="1.4"/>
<text x="325.60" y="367.00" font-size="6.7" text-anchor="start" textLength="67.50" lengthAdjust="spacingAndGlyphs" fill="#231f20" stroke="#231f20" stroke-width="0.14">IR (30 events/112 cases)</text>
<text x="294.50" y="404.70" font-size="8.4" text-anchor="start" textLength="52.40" lengthAdjust="spacingAndGlyphs" fill="#231f20" stroke="#231f20" stroke-width="0.2">Number at risk</text>
<line x1="294.50" y1="413.90" x2="306.50" y2="413.90" stroke="#10528a" stroke-width="1.4"/>
<text x="319.00" y="416.75" font-size="8.0" text-anchor="middle" fill="#231f20" stroke="#231f20" stroke-width="0.2">45</text>
<text x="345.63" y="416.75" font-size="8.0" text-anchor="middle" fill="#231f20" stroke="#231f20" stroke-width="0.2">42</text>
<text x="372.26" y="416.75" font-size="8.0" text-anchor="middle" fill="#231f20" stroke="#231f20" stroke-width="0.2">31</text>
<text x="398.89" y="416.75" font-size="8.0" text-anchor="middle" fill="#231f20" stroke="#231f20" stroke-width="0.2">24</text>
<text x="425.52" y="416.75" font-size="8.0" text-anchor="middle" fill="#231f20" stroke="#231f20" stroke-width="0.2">14</text>
<text x="452.15" y="416.75" font-size="8.0" text-anchor="middle" fill="#231f20" stroke="#231f20" stroke-width="0.2">7</text>
<text x="478.78" y="416.75" font-size="8.0" text-anchor="middle" fill="#231f20" stroke="#231f20" stroke-width="0.2">3</text>
<text x="505.41" y="416.75" font-size="8.0" text-anchor="middle" fill="#231f20" stroke="#231f20" stroke-width="0.2">0</text>
<line x1="294.50" y1="424.80" x2="306.50" y2="424.80" stroke="#c8203f" stroke-width="1.4"/>
<text x="319.00" y="427.65" font-size="8.0" text-anchor="middle" fill="#231f20" stroke="#231f20" stroke-width="0.2">112</text>
<text x="345.63" y="427.65" font-size="8.0" text-anchor="middle" fill="#231f20" stroke="#231f20" stroke-width="0.2">108</text>
<text x="372.26" y="427.65" font-size="8.0" text-anchor="middle" fill="#231f20" stroke="#231f20" stroke-width="0.2">101</text>
<text x="398.89" y="427.65" font-size="8.0" text-anchor="middle" fill="#231f20" stroke="#231f20" stroke-width="0.2">97</text>
<text x="425.52" y="427.65" font-size="8.0" text-anchor="middle" fill="#231f20" stroke="#231f20" stroke-width="0.2">77</text>
<text x="452.15" y="427.65" font-size="8.0" text-anchor="middle" fill="#231f20" stroke="#231f20" stroke-width="0.2">56</text>
<text x="478.78" y="427.65" font-size="8.0" text-anchor="middle" fill="#231f20" stroke="#231f20" stroke-width="0.2">33</text>
<text x="505.41" y="427.65" font-size="8.0" text-anchor="middle" fill="#231f20" stroke="#231f20" stroke-width="0.2">3</text>
<text x="139.25" y="458.80" font-size="9.5" text-anchor="middle" textLength="56.90" lengthAdjust="spacingAndGlyphs" font-weight="bold" fill="#000" stroke="#000" stroke-width="0.2">Intermediate</text>
<path d="M38.70 466.00V582.40H239.80" fill="none" stroke="#231f20" stroke-width="1.3"/>
<line x1="35.10" y1="578.40" x2="38.70" y2="578.40" stroke="#231f20" stroke-width="1.0"/>
<text x="31.90" y="580.90" font-size="8.0" text-anchor="end" textLength="10.80" lengthAdjust="spacingAndGlyphs" fill="#231f20" stroke="#231f20" stroke-width="0.2">0.0</text>
<line x1="35.10" y1="556.60" x2="38.70" y2="556.60" stroke="#231f20" stroke-width="1.0"/>
<text x="31.90" y="559.10" font-size="8.0" text-anchor="end" textLength="10.80" lengthAdjust="spacingAndGlyphs" fill="#231f20" stroke="#231f20" stroke-width="0.2">0.2</text>
<line x1="35.10" y1="534.80" x2="38.70" y2="534.80" stroke="#231f20" stroke-width="1.0"/>
<text x="31.90" y="537.30" font-size="8.0" text-anchor="end" textLength="10.80" lengthAdjust="spacingAndGlyphs" fill="#231f20" stroke="#231f20" stroke-width="0.2">0.4</text>
<line x1="35.10" y1="513.00" x2="38.70" y2="513.00" stroke="#231f20" stroke-width="1.0"/>
<text x="31.90" y="515.50" font-size="8.0" text-anchor="end" textLength="10.80" lengthAdjust="spacingAndGlyphs" fill="#231f20" stroke="#231f20" stroke-width="0.2">0.6</text>
<line x1="35.10" y1="491.20" x2="38.70" y2="491.20" stroke="#231f20" stroke-width="1.0"/>
<text x="31.90" y="493.70" font-size="8.0" text-anchor="end" textLength="10.80" lengthAdjust="spacingAndGlyphs" fill="#231f20" stroke="#231f20" stroke-width="0.2">0.8</text>
<line x1="35.10" y1="469.40" x2="38.70" y2="469.40" stroke="#231f20" stroke-width="1.0"/>
<text x="31.90" y="471.90" font-size="8.0" text-anchor="end" textLength="10.20" lengthAdjust="spacingAndGlyphs" fill="#231f20" stroke="#231f20" stroke-width="0.2">1.0</text>
<line x1="46.30" y1="582.40" x2="46.30" y2="585.30" stroke="#231f20" stroke-width="1.0"/>
<text x="46.30" y="594.60" font-size="8.0" text-anchor="middle" fill="#231f20" stroke="#231f20" stroke-width="0.2">0</text>
<line x1="72.93" y1="582.40" x2="72.93" y2="585.30" stroke="#231f20" stroke-width="1.0"/>
<text x="72.93" y="594.60" font-size="8.0" text-anchor="middle" fill="#231f20" stroke="#231f20" stroke-width="0.2">1</text>
<line x1="99.56" y1="582.40" x2="99.56" y2="585.30" stroke="#231f20" stroke-width="1.0"/>
<text x="99.56" y="594.60" font-size="8.0" text-anchor="middle" fill="#231f20" stroke="#231f20" stroke-width="0.2">2</text>
<line x1="126.19" y1="582.40" x2="126.19" y2="585.30" stroke="#231f20" stroke-width="1.0"/>
<text x="126.19" y="594.60" font-size="8.0" text-anchor="middle" fill="#231f20" stroke="#231f20" stroke-width="0.2">3</text>
<line x1="152.82" y1="582.40" x2="152.82" y2="585.30" stroke="#231f20" stroke-width="1.0"/>
<text x="152.82" y="594.60" font-size="8.0" text-anchor="middle" fill="#231f20" stroke="#231f20" stroke-width="0.2">4</text>
<line x1="179.45" y1="582.40" x2="179.45" y2="585.30" stroke="#231f20" stroke-width="1.0"/>
<text x="179.45" y="594.60" font-size="8.0" text-anchor="middle" fill="#231f20" stroke="#231f20" stroke-width="0.2">5</text>
<line x1="206.08" y1="582.40" x2="206.08" y2="585.30" stroke="#231f20" stroke-width="1.0"/>
<text x="206.08" y="594.60" font-size="8.0" text-anchor="middle" fill="#231f20" stroke="#231f20" stroke-width="0.2">6</text>
<line x1="232.71" y1="582.40" x2="232.71" y2="585.30" stroke="#231f20" stroke-width="1.0"/>
<text x="232.71" y="594.60" font-size="8.0" text-anchor="middle" fill="#231f20" stroke="#231f20" stroke-width="0.2">7</text>
<text x="0" y="0" font-size="9.4" text-anchor="middle" textLength="35.4" lengthAdjust="spacingAndGlyphs" fill="#231f20" stroke="#231f20" stroke-width="0.12" transform="translate(15.30,524.30) rotate(-90)">Probability</text>
<text x="139.50" y="607.70" font-size="9.8" text-anchor="middle" textLength="17.40" lengthAdjust="spacingAndGlyphs" fill="#231f20" stroke="#231f20" stroke-width="0.2">Years</text>
<path d="M46.30 469.20H50.80V471.20H62.40V473.90H72.20V476.60H73.20V480.60H80.90V483.20H102.50V488.20H111.70V490.90H123.50V493.40H127.60V498.50H143.90V503.10H145.00V506.90H156.80V510.80H165.50V514.90H171.20V518.90H187.70V521.50H188.30V532.00H191.40V533.60H200.80V538.40H219.60V551.80H225.20" fill="none" stroke="#10528a" stroke-width="1.45" stroke-linejoin="miter" stroke-linecap="butt"/>
<path d="M45.80 469.30H51.20V470.30H91.50V472.40H97.30V473.50H100.20V474.70H102.50V475.50H106.50V476.40H109.10V477.60H121.90V478.80H126.50V480.00H135.80V481.10H140.40V482.60H145.80V484.20H151.20V485.10H155.00V486.20H158.80V488.00H172.70V489.50H181.90V491.00H183.50V492.80H185.60V494.60H193.90V496.10H232.60" fill="none" stroke="#c8203f" stroke-width="1.45" stroke-linejoin="miter" stroke-linecap="butt"/>
<text x="42.00" y="543.00" font-size="6.7" text-anchor="start" textLength="96.40" lengthAdjust="spacingAndGlyphs" fill="#231f20" stroke="#231f20" stroke-width="0.14">HR = 0.31, (95% CI: 0.17–0.55)</text>
<text x="42.00" y="551.00" font-size="6.7" text-anchor="start" textLength="32.90" lengthAdjust="spacingAndGlyphs" fill="#231f20" stroke="#231f20" stroke-width="0.14">P &lt; 0.0001</text>
<text x="42.00" y="559.70" font-size="6.7" text-anchor="start" textLength="72.60" lengthAdjust="spacingAndGlyphs" fill="#231f20" stroke="#231f20" stroke-width="0.14">5–year rates: 81%, 55%</text>
<line x1="42.00" y1="568.90" x2="50.40" y2="568.90" stroke="#10528a" stroke-width="1.4"/>
<text x="53.00" y="571.20" font-size="6.7" text-anchor="start" textLength="70.90" lengthAdjust="spacingAndGlyphs" fill="#231f20" stroke="#231f20" stroke-width="0.14">FCR (23 events/50 cases)</text>
<line x1="42.00" y1="577.30" x2="50.40" y2="577.30" stroke="#c8203f" stroke-width="1.4"/>
<text x="53.00" y="579.60" font-size="6.7" text-anchor="start" textLength="68.10" lengthAdjust="spacingAndGlyphs" fill="#231f20" stroke="#231f20" stroke-width="0.14">IR (22 events/103 cases)</text>
<text x="21.20" y="617.20" font-size="8.4" text-anchor="start" textLength="52.40" lengthAdjust="spacingAndGlyphs" fill="#231f20" stroke="#231f20" stroke-width="0.2">Number at risk</text>
<line x1="21.20" y1="626.50" x2="33.20" y2="626.50" stroke="#10528a" stroke-width="1.4"/>
<text x="46.30" y="629.35" font-size="8.0" text-anchor="middle" fill="#231f20" stroke="#231f20" stroke-width="0.2">50</text>
<text x="72.93" y="629.35" font-size="8.0" text-anchor="middle" fill="#231f20" stroke="#231f20" stroke-width="0.2">43</text>
<text x="99.56" y="629.35" font-size="8.0" text-anchor="middle" fill="#231f20" stroke="#231f20" stroke-width="0.2">38</text>
<text x="126.19" y="629.35" font-size="8.0" text-anchor="middle" fill="#231f20" stroke="#231f20" stroke-width="0.2">33</text>
<text x="152.82" y="629.35" font-size="8.0" text-anchor="middle" fill="#231f20" stroke="#231f20" stroke-width="0.2">19</text>
<text x="179.45" y="629.35" font-size="8.0" text-anchor="middle" fill="#231f20" stroke="#231f20" stroke-width="0.2">14</text>
<text x="206.08" y="629.35" font-size="8.0" text-anchor="middle" fill="#231f20" stroke="#231f20" stroke-width="0.2">6</text>
<text x="232.71" y="629.35" font-size="8.0" text-anchor="middle" fill="#231f20" stroke="#231f20" stroke-width="0.2">0</text>
<line x1="21.20" y1="637.20" x2="33.20" y2="637.20" stroke="#c8203f" stroke-width="1.4"/>
<text x="46.30" y="640.05" font-size="8.0" text-anchor="middle" fill="#231f20" stroke="#231f20" stroke-width="0.2">103</text>
<text x="72.93" y="640.05" font-size="8.0" text-anchor="middle" fill="#231f20" stroke="#231f20" stroke-width="0.2">102</text>
<text x="99.56" y="640.05" font-size="8.0" text-anchor="middle" fill="#231f20" stroke="#231f20" stroke-width="0.2">99</text>
<text x="126.19" y="640.05" font-size="8.0" text-anchor="middle" fill="#231f20" stroke="#231f20" stroke-width="0.2">93</text>
<text x="152.82" y="640.05" font-size="8.0" text-anchor="middle" fill="#231f20" stroke="#231f20" stroke-width="0.2">76</text>
<text x="179.45" y="640.05" font-size="8.0" text-anchor="middle" fill="#231f20" stroke="#231f20" stroke-width="0.2">57</text>
<text x="206.08" y="640.05" font-size="8.0" text-anchor="middle" fill="#231f20" stroke="#231f20" stroke-width="0.2">34</text>
<text x="232.71" y="640.05" font-size="8.0" text-anchor="middle" fill="#231f20" stroke="#231f20" stroke-width="0.2">3</text>
<text x="412.15" y="458.80" font-size="9.5" text-anchor="middle" textLength="41.90" lengthAdjust="spacingAndGlyphs" font-weight="bold" fill="#000" stroke="#000" stroke-width="0.2">Very high</text>
<path d="M311.50 466.00V582.40H513.20" fill="none" stroke="#231f20" stroke-width="1.3"/>
<line x1="307.90" y1="578.40" x2="311.50" y2="578.40" stroke="#231f20" stroke-width="1.0"/>
<text x="305.50" y="580.90" font-size="8.0" text-anchor="end" textLength="10.80" lengthAdjust="spacingAndGlyphs" fill="#231f20" stroke="#231f20" stroke-width="0.2">0.0</text>
<line x1="307.90" y1="556.60" x2="311.50" y2="556.60" stroke="#231f20" stroke-width="1.0"/>
<text x="305.50" y="559.10" font-size="8.0" text-anchor="end" textLength="10.80" lengthAdjust="spacingAndGlyphs" fill="#231f20" stroke="#231f20" stroke-width="0.2">0.2</text>
<line x1="307.90" y1="534.80" x2="311.50" y2="534.80" stroke="#231f20" stroke-width="1.0"/>
<text x="305.50" y="537.30" font-size="8.0" text-anchor="end" textLength="10.80" lengthAdjust="spacingAndGlyphs" fill="#231f20" stroke="#231f20" stroke-width="0.2">0.4</text>
<line x1="307.90" y1="513.00" x2="311.50" y2="513.00" stroke="#231f20" stroke-width="1.0"/>
<text x="305.50" y="515.50" font-size="8.0" text-anchor="end" textLength="10.80" lengthAdjust="spacingAndGlyphs" fill="#231f20" stroke="#231f20" stroke-width="0.2">0.6</text>
<line x1="307.90" y1="491.20" x2="311.50" y2="491.20" stroke="#231f20" stroke-width="1.0"/>
<text x="305.50" y="493.70" font-size="8.0" text-anchor="end" textLength="10.80" lengthAdjust="spacingAndGlyphs" fill="#231f20" stroke="#231f20" stroke-width="0.2">0.8</text>
<line x1="307.90" y1="469.40" x2="311.50" y2="469.40" stroke="#231f20" stroke-width="1.0"/>
<text x="305.50" y="471.90" font-size="8.0" text-anchor="end" textLength="10.20" lengthAdjust="spacingAndGlyphs" fill="#231f20" stroke="#231f20" stroke-width="0.2">1.0</text>
<line x1="319.00" y1="582.40" x2="319.00" y2="585.30" stroke="#231f20" stroke-width="1.0"/>
<text x="319.00" y="594.60" font-size="8.0" text-anchor="middle" fill="#231f20" stroke="#231f20" stroke-width="0.2">0</text>
<line x1="345.63" y1="582.40" x2="345.63" y2="585.30" stroke="#231f20" stroke-width="1.0"/>
<text x="345.63" y="594.60" font-size="8.0" text-anchor="middle" fill="#231f20" stroke="#231f20" stroke-width="0.2">1</text>
<line x1="372.26" y1="582.40" x2="372.26" y2="585.30" stroke="#231f20" stroke-width="1.0"/>
<text x="372.26" y="594.60" font-size="8.0" text-anchor="middle" fill="#231f20" stroke="#231f20" stroke-width="0.2">2</text>
<line x1="398.89" y1="582.40" x2="398.89" y2="585.30" stroke="#231f20" stroke-width="1.0"/>
<text x="398.89" y="594.60" font-size="8.0" text-anchor="middle" fill="#231f20" stroke="#231f20" stroke-width="0.2">3</text>
<line x1="425.52" y1="582.40" x2="425.52" y2="585.30" stroke="#231f20" stroke-width="1.0"/>
<text x="425.52" y="594.60" font-size="8.0" text-anchor="middle" fill="#231f20" stroke="#231f20" stroke-width="0.2">4</text>
<line x1="452.15" y1="582.40" x2="452.15" y2="585.30" stroke="#231f20" stroke-width="1.0"/>
<text x="452.15" y="594.60" font-size="8.0" text-anchor="middle" fill="#231f20" stroke="#231f20" stroke-width="0.2">5</text>
<line x1="478.78" y1="582.40" x2="478.78" y2="585.30" stroke="#231f20" stroke-width="1.0"/>
<text x="478.78" y="594.60" font-size="8.0" text-anchor="middle" fill="#231f20" stroke="#231f20" stroke-width="0.2">6</text>
<line x1="505.41" y1="582.40" x2="505.41" y2="585.30" stroke="#231f20" stroke-width="1.0"/>
<text x="505.41" y="594.60" font-size="8.0" text-anchor="middle" fill="#231f20" stroke="#231f20" stroke-width="0.2">7</text>
<text x="0" y="0" font-size="9.4" text-anchor="middle" textLength="35.4" lengthAdjust="spacingAndGlyphs" fill="#231f20" stroke="#231f20" stroke-width="0.12" transform="translate(288.10,524.30) rotate(-90)">Probability</text>
<text x="412.20" y="607.70" font-size="9.8" text-anchor="middle" textLength="17.40" lengthAdjust="spacingAndGlyphs" fill="#231f20" stroke="#231f20" stroke-width="0.2">Years</text>
<path d="M337.80 469.40H425.30V575.80" fill="none" stroke="#10528a" stroke-width="1.45" stroke-linejoin="miter" stroke-linecap="butt"/>
<path d="M319.30 469.40H337.80V473.80H342.30V478.10H365.50V482.40H382.60V486.70H401.20V491.00H405.50V495.30H433.00V500.80H443.80V507.00H455.50V512.80H459.50V519.00H461.80V525.20H505.00" fill="none" stroke="#c8203f" stroke-width="1.45" stroke-linejoin="miter" stroke-linecap="butt"/>
<text x="315.00" y="543.00" font-size="6.7" text-anchor="start" textLength="95.90" lengthAdjust="spacingAndGlyphs" fill="#231f20" stroke="#231f20" stroke-width="0.14">HR = 0.35, (95% CI: 0.04–2.93)</text>
<text x="315.00" y="551.00" font-size="6.7" text-anchor="start" textLength="29.60" lengthAdjust="spacingAndGlyphs" fill="#231f20" stroke="#231f20" stroke-width="0.14">P = 0.311</text>
<text x="315.00" y="559.70" font-size="6.7" text-anchor="start" textLength="68.90" lengthAdjust="spacingAndGlyphs" fill="#231f20" stroke="#231f20" stroke-width="0.14">5–year rates: 65%, 0%</text>
<line x1="314.40" y1="568.90" x2="322.80" y2="568.90" stroke="#10528a" stroke-width="1.4"/>
<text x="325.60" y="571.20" font-size="6.7" text-anchor="start" textLength="64.70" lengthAdjust="spacingAndGlyphs" fill="#231f20" stroke="#231f20" stroke-width="0.14">FCR (1 events/3 cases)</text>
<line x1="314.40" y1="577.30" x2="322.80" y2="577.30" stroke="#c8203f" stroke-width="1.4"/>
<text x="325.60" y="579.60" font-size="6.7" text-anchor="start" textLength="65.20" lengthAdjust="spacingAndGlyphs" fill="#231f20" stroke="#231f20" stroke-width="0.14">IR (11 events/25 cases)</text>
<text x="294.50" y="617.20" font-size="8.4" text-anchor="start" textLength="52.40" lengthAdjust="spacingAndGlyphs" fill="#231f20" stroke="#231f20" stroke-width="0.2">Number at risk</text>
<line x1="294.50" y1="626.50" x2="306.50" y2="626.50" stroke="#10528a" stroke-width="1.4"/>
<text x="319.00" y="629.35" font-size="8.0" text-anchor="middle" fill="#231f20" stroke="#231f20" stroke-width="0.2">3</text>
<text x="345.63" y="629.35" font-size="8.0" text-anchor="middle" fill="#231f20" stroke="#231f20" stroke-width="0.2">1</text>
<text x="372.26" y="629.35" font-size="8.0" text-anchor="middle" fill="#231f20" stroke="#231f20" stroke-width="0.2">1</text>
<text x="398.89" y="629.35" font-size="8.0" text-anchor="middle" fill="#231f20" stroke="#231f20" stroke-width="0.2">1</text>
<text x="425.52" y="629.35" font-size="8.0" text-anchor="middle" fill="#231f20" stroke="#231f20" stroke-width="0.2">0</text>
<text x="452.15" y="629.35" font-size="8.0" text-anchor="middle" fill="#231f20" stroke="#231f20" stroke-width="0.2">0</text>
<text x="478.78" y="629.35" font-size="8.0" text-anchor="middle" fill="#231f20" stroke="#231f20" stroke-width="0.2">0</text>
<text x="505.41" y="629.35" font-size="8.0" text-anchor="middle" fill="#231f20" stroke="#231f20" stroke-width="0.2">0</text>
<line x1="294.50" y1="637.20" x2="306.50" y2="637.20" stroke="#c8203f" stroke-width="1.4"/>
<text x="319.00" y="640.05" font-size="8.0" text-anchor="middle" fill="#231f20" stroke="#231f20" stroke-width="0.2">25</text>
<text x="345.63" y="640.05" font-size="8.0" text-anchor="middle" fill="#231f20" stroke="#231f20" stroke-width="0.2">23</text>
<text x="372.26" y="640.05" font-size="8.0" text-anchor="middle" fill="#231f20" stroke="#231f20" stroke-width="0.2">22</text>
<text x="398.89" y="640.05" font-size="8.0" text-anchor="middle" fill="#231f20" stroke="#231f20" stroke-width="0.2">21</text>
<text x="425.52" y="640.05" font-size="8.0" text-anchor="middle" fill="#231f20" stroke="#231f20" stroke-width="0.2">16</text>
<text x="452.15" y="640.05" font-size="8.0" text-anchor="middle" fill="#231f20" stroke="#231f20" stroke-width="0.2">12</text>
<text x="478.78" y="640.05" font-size="8.0" text-anchor="middle" fill="#231f20" stroke="#231f20" stroke-width="0.2">6</text>
<text x="505.41" y="640.05" font-size="8.0" text-anchor="middle" fill="#231f20" stroke="#231f20" stroke-width="0.2">1</text>
</g></svg>
</body></html>
